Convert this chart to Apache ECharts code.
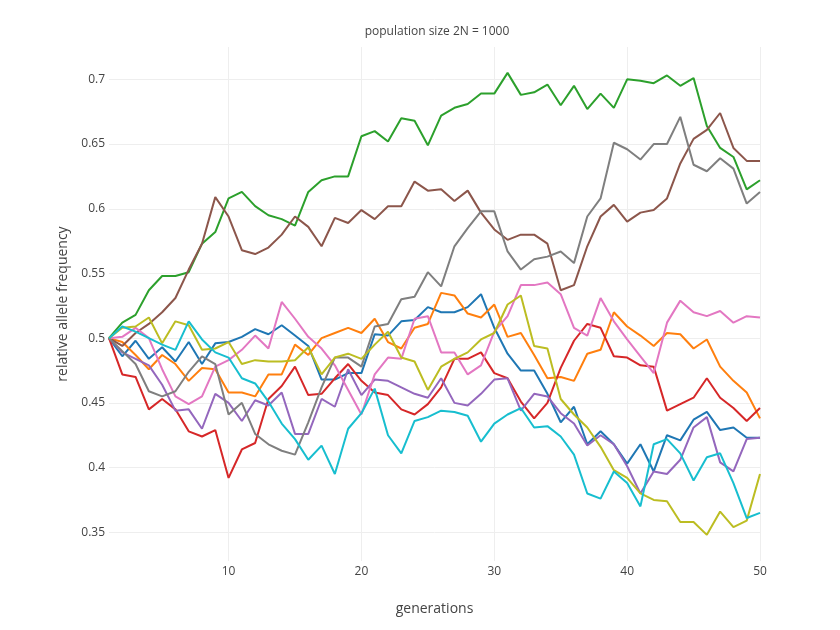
<!DOCTYPE html>
<html>
<head>
<meta charset="utf-8">
<script src="https://cdn.jsdelivr.net/npm/echarts@6/dist/echarts.min.js"></script>
<style>
html,body{margin:0;padding:0;background:#fff;}
#chart{width:840px;height:630px;}
</style>
</head>
<body>
<div id="chart"></div>
<script>
const titleText = "population size 2N = 1000";
const xAxisTitle = "generations";
const yAxisTitle = "relative allele frequency";
const generations = [1,2,3,4,5,6,7,8,9,10,11,12,13,14,15,16,17,18,19,20,21,22,23,24,25,26,27,28,29,30,31,32,33,34,35,36,37,38,39,40,41,42,43,44,45,46,47,48,49,50];
const xTicks = [10,20,30,40,50];
const yTicks = [0.35,0.4,0.45,0.5,0.55,0.6,0.65,0.7];

const blue = [0.5,0.486,0.498,0.484,0.493,0.482,0.497,0.480,0.496,0.497, 0.501,0.507,0.503,0.510,0.502,0.494,0.468,0.468,0.473,0.473, 0.503,0.502,0.513,0.514,0.524,0.520,0.520,0.524,0.534,0.508, 0.488,0.475,0.475,0.457,0.435,0.447,0.418,0.428,0.418,0.403, 0.418,0.397,0.425,0.421,0.437,0.443,0.429,0.431,0.423,0.423];
const orange = [0.5,0.497,0.487,0.476,0.487,0.480,0.467,0.477,0.476,0.458, 0.458,0.455,0.472,0.472,0.495,0.487,0.500,0.504,0.508,0.504, 0.515,0.497,0.492,0.508,0.511,0.535,0.533,0.519,0.516,0.526, 0.501,0.504,0.487,0.469,0.470,0.467,0.488,0.491,0.520,0.509, 0.502,0.494,0.504,0.503,0.492,0.499,0.478,0.467,0.458,0.438];
const green = [0.5,0.512,0.518,0.537,0.548,0.548,0.551,0.573,0.582,0.608, 0.613,0.602,0.595,0.592,0.587,0.613,0.622,0.625,0.625,0.656, 0.660,0.652,0.670,0.668,0.649,0.672,0.678,0.681,0.689,0.689, 0.705,0.688,0.690,0.696,0.680,0.695,0.677,0.689,0.678,0.700, 0.699,0.697,0.703,0.695,0.701,0.664,0.647,0.640,0.615,0.622];
const red = [0.5,0.472,0.470,0.445,0.453,0.445,0.428,0.424,0.429,0.392, 0.414,0.419,0.453,0.463,0.478,0.456,0.457,0.469,0.480,0.467, 0.458,0.456,0.445,0.441,0.449,0.462,0.484,0.484,0.489,0.473, 0.469,0.451,0.438,0.450,0.477,0.498,0.511,0.508,0.486,0.485, 0.479,0.478,0.444,0.449,0.454,0.469,0.454,0.446,0.436,0.446];
const purple = [0.5,0.489,0.484,0.479,0.464,0.444,0.445,0.430,0.457,0.450, 0.436,0.452,0.448,0.458,0.426,0.426,0.453,0.447,0.476,0.456, 0.468,0.467,0.462,0.457,0.454,0.469,0.450,0.448,0.457,0.468, 0.469,0.444,0.457,0.455,0.442,0.434,0.417,0.425,0.418,0.401, 0.380,0.397,0.395,0.406,0.431,0.439,0.404,0.397,0.422,0.423];
const brown = [0.5,0.494,0.504,0.511,0.520,0.531,0.553,0.573,0.609,0.594, 0.568,0.565,0.570,0.580,0.594,0.586,0.571,0.593,0.589,0.599, 0.592,0.602,0.602,0.621,0.614,0.615,0.606,0.614,0.597,0.584, 0.576,0.580,0.580,0.573,0.537,0.541,0.571,0.594,0.603,0.590, 0.597,0.599,0.608,0.635,0.654,0.661,0.674,0.647,0.637,0.637];
const pink = [0.5,0.501,0.508,0.500,0.476,0.455,0.449,0.455,0.478,0.483, 0.491,0.502,0.492,0.528,0.515,0.501,0.492,0.479,0.460,0.441, 0.472,0.485,0.484,0.515,0.517,0.489,0.489,0.472,0.479,0.505, 0.517,0.541,0.541,0.543,0.534,0.508,0.502,0.531,0.513,0.499, 0.486,0.473,0.512,0.529,0.520,0.517,0.521,0.512,0.517,0.516];
const gray = [0.5,0.490,0.480,0.459,0.455,0.459,0.474,0.486,0.480,0.441, 0.450,0.426,0.418,0.413,0.410,0.435,0.462,0.485,0.485,0.478, 0.509,0.511,0.530,0.532,0.551,0.540,0.571,0.585,0.598,0.598, 0.567,0.553,0.561,0.563,0.567,0.558,0.594,0.608,0.651,0.646, 0.638,0.650,0.650,0.671,0.634,0.629,0.639,0.631,0.604,0.613];
const olive = [0.5,0.508,0.509,0.516,0.496,0.513,0.510,0.491,0.492,0.497, 0.480,0.483,0.482,0.482,0.483,0.493,0.472,0.485,0.488,0.484, 0.495,0.505,0.485,0.482,0.460,0.478,0.484,0.489,0.499,0.504, 0.526,0.533,0.494,0.492,0.453,0.441,0.431,0.416,0.398,0.392, 0.380,0.375,0.374,0.358,0.358,0.348,0.366,0.354,0.359,0.395];
const cyan = [0.5,0.509,0.505,0.500,0.495,0.491,0.513,0.499,0.489,0.485, 0.469,0.465,0.451,0.434,0.422,0.406,0.417,0.395,0.430,0.442, 0.461,0.425,0.411,0.436,0.439,0.444,0.443,0.440,0.420,0.434, 0.441,0.446,0.431,0.432,0.424,0.410,0.380,0.376,0.397,0.388, 0.370,0.418,0.422,0.411,0.390,0.408,0.411,0.388,0.361,0.365];

const seriesList = [
  {name:'trace 0', values: blue, color:'#1f77b4'},
  {name:'trace 1', values: orange, color:'#ff7f0e'},
  {name:'trace 2', values: green, color:'#2ca02c'},
  {name:'trace 3', values: red, color:'#d62728'},
  {name:'trace 4', values: purple, color:'#9467bd'},
  {name:'trace 5', values: brown, color:'#8c564b'},
  {name:'trace 6', values: pink, color:'#e377c2'},
  {name:'trace 7', values: gray, color:'#7f7f7f'},
  {name:'trace 8', values: olive, color:'#bcbd22'},
  {name:'trace 9', values: cyan, color:'#17becf'}
];

const font = '"Open Sans", verdana, arial, sans-serif';
const chart = echarts.init(document.getElementById('chart'), null, {renderer:'canvas'});
chart.setOption({
  animation: false,
  backgroundColor: '#fff',
  textStyle: {fontFamily: font},
  title: {
    text: titleText,
    left: 432, top: 21,
    textAlign: 'center',
    textStyle: {fontFamily: font, fontSize: 12, fontWeight: 'normal', color: '#444'}
  },
  grid: {left: 109, right: 80, top: 47, bottom: 69, containLabel: false},
  xAxis: {
    type: 'value',
    min: 1, max: 50,
    name: xAxisTitle,
    nameLocation: 'middle',
    nameGap: 41,
    nameTextStyle: {fontFamily: font, fontSize: 14, color: '#444'},
    axisLine: {show: false},
    axisTick: {show: false, customValues: xTicks},
    axisLabel: {customValues: xTicks, fontFamily: font, fontSize: 12, color: '#444', margin: 5},
    splitLine: {show: true, lineStyle: {color: '#eee', width: 1}}
  },
  yAxis: {
    type: 'value',
    min: 0.3278, max: 0.725,
    name: yAxisTitle,
    nameLocation: 'middle',
    nameGap: 35,
    nameRotate: 90,
    nameTextStyle: {fontFamily: font, fontSize: 14, color: '#444'},
    axisLine: {show: false},
    axisTick: {show: false, customValues: yTicks},
    axisLabel: {customValues: yTicks, fontFamily: font, fontSize: 12, color: '#444', margin: 4},
    splitLine: {show: true, lineStyle: {color: '#eee', width: 1}}
  },
  series: seriesList.map(s => ({
    name: s.name,
    type: 'line',
    showSymbol: false,
    symbol: 'none',
    data: generations.map((g, i) => [g, s.values[i]]),
    lineStyle: {color: s.color, width: 2},
    itemStyle: {color: s.color},
    emphasis: {disabled: true}
  }))
});
</script>
</body>
</html>
